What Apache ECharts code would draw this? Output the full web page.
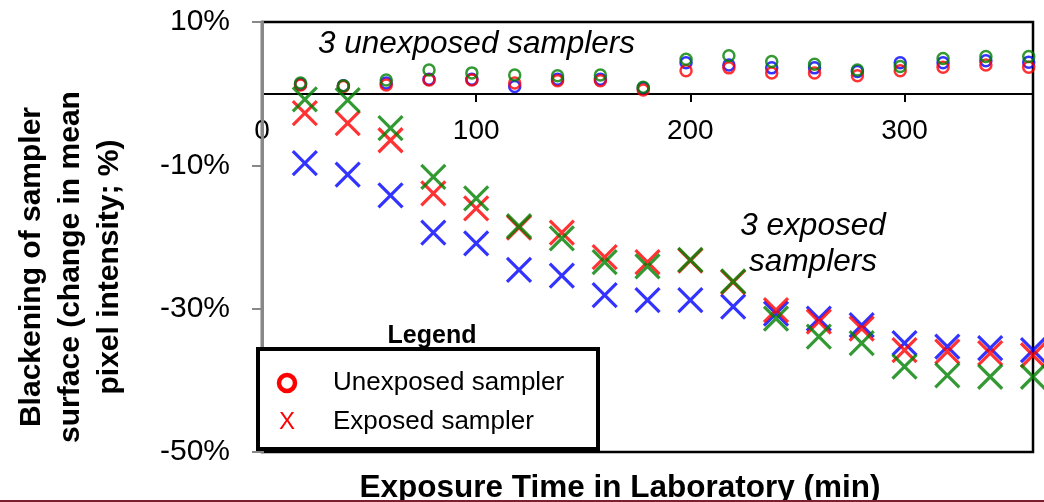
<!DOCTYPE html>
<html>
<head>
<meta charset="utf-8">
<script src="https://cdn.jsdelivr.net/npm/echarts@6/dist/echarts.min.js"></script>
<style>
  html, body { margin: 0; padding: 0; background: #fff; }
  #chart { width: 1044px; height: 502px; }
</style>
</head>
<body>
<div id="chart"></div>
<script>
// exposure times (min)
var timesUnexposed = [18, 38, 58, 78, 98, 118, 138, 158, 178, 198, 218, 238, 258, 278, 298, 318, 338, 358];
var timesExposed = [20, 40, 60, 80, 100, 120, 140, 160, 180, 200, 220, 240, 260, 280, 300, 320, 340, 360];

// change in mean pixel intensity (%)
var unexposedRed = [1.2, 1.0, 1.2, 1.9, 1.9, 1.5, 1.8, 1.8, 0.5, 3.2, 3.6, 2.9, 2.9, 2.5, 3.2, 3.7, 4.0, 3.7];
var unexposedBlue = [1.3, 1.1, 1.5, 2.0, 2.0, 1.0, 2.0, 2.0, 0.8, 4.3, 4.0, 3.6, 3.6, 3.1, 4.3, 4.3, 4.6, 4.4];
var unexposedGreen = [1.5, 1.1, 1.9, 3.3, 2.9, 2.6, 2.5, 2.6, 0.9, 4.8, 5.3, 4.5, 4.1, 3.3, 3.8, 4.9, 5.2, 5.2];

var exposedRed = [-2.7, -4.1, -6.5, -13.9, -16.0, -18.7, -19.4, -22.8, -23.5, -23.3, -26.3, -30.2, -31.8, -32.8, -35.8, -36.0, -36.2, -36.5];
var exposedBlue = [-9.7, -11.3, -14.2, -19.4, -20.9, -24.6, -25.4, -28.1, -28.8, -28.8, -29.7, -30.7, -31.4, -32.3, -34.8, -35.3, -35.5, -35.8];
var exposedGreen = [-0.8, -0.9, -4.8, -11.6, -14.6, -18.5, -20.2, -23.5, -24.1, -23.2, -26.2, -31.4, -33.9, -34.8, -38.1, -39.3, -39.5, -39.5];

var xTicks = [0, 100, 200, 300];
var yTicks = [-50, -30, -10, 10];

var FONT = '"Liberation Sans", Arial, sans-serif';
var crossPath = 'path://M0,0L24,24M24,0L0,24';

function pairs(xs, ys) {
  var out = [];
  for (var i = 0; i < xs.length; i++) out.push([xs[i], ys[i]]);
  return out;
}

function circles(name, color, ys) {
  return {
    name: name, type: 'scatter', data: pairs(timesUnexposed, ys),
    symbol: 'circle', symbolSize: 11, clip: false,
    itemStyle: { color: 'transparent', borderColor: color, borderWidth: 2.5 }
  };
}

function crosses(name, color, ys) {
  return {
    name: name, type: 'scatter', data: pairs(timesExposed, ys),
    symbol: crossPath, symbolSize: 24, clip: false,
    itemStyle: { color: 'transparent', borderColor: color, borderWidth: 3.2 }
  };
}

var chart = echarts.init(document.getElementById('chart'));

var option = {
  animation: false,
  grid: {
    left: 262, right: 11, top: 22, bottom: 50,
    show: true, borderColor: '#000', borderWidth: 2.5, backgroundColor: 'transparent'
  },
  xAxis: {
    // x axis sits on the 0% line, pulled up from the bottom of the grid
    type: 'value', min: 0, max: 360, position: 'bottom', offset: -358,
    splitLine: { show: false },
    axisLine: { onZero: false, lineStyle: { color: '#000', width: 2 } },
    axisTick: { customValues: xTicks, length: 8, lineStyle: { color: '#000', width: 2 } },
    axisLabel: { customValues: xTicks, fontSize: 28, color: '#000', margin: 23, fontFamily: FONT }
  },
  yAxis: {
    type: 'value', min: -50, max: 10, z: 2,
    splitLine: { show: false },
    axisLine: { show: true, onZero: false, lineStyle: { color: '#888', width: 3 } },
    axisTick: { show: true, customValues: yTicks, length: 10, lineStyle: { color: '#888', width: 2 } },
    axisLabel: { customValues: yTicks, formatter: '{value}%', fontSize: 30, color: '#000', margin: 32, fontFamily: FONT }
  },
  series: [
    circles('Unexposed 1', '#0000ff', unexposedBlue),
    circles('Unexposed 2', '#ff0000', unexposedRed),
    circles('Unexposed 3', '#008000', unexposedGreen),
    crosses('Exposed 1', '#0000ff', exposedBlue),
    crosses('Exposed 2', '#ff0000', exposedRed),
    crosses('Exposed 3', '#008000', exposedGreen)
  ],
  graphic: [
    // axis titles
    {
      type: 'text', x: 71, y: 267, rotation: Math.PI / 2, z: 10,
      style: {
        text: 'Blackening of sampler\nsurface (change in mean\npixel intensity; %)',
        font: 'bold 30px ' + FONT, fill: '#000', lineHeight: 39,
        align: 'center', verticalAlign: 'middle', textAlign: 'center', textVerticalAlign: 'middle'
      }
    },
    {
      type: 'text', x: 620, y: 488, z: 10,
      style: {
        text: 'Exposure Time in Laboratory (min)',
        font: 'bold 31.5px ' + FONT, fill: '#000',
        align: 'center', verticalAlign: 'middle', textAlign: 'center', textVerticalAlign: 'middle'
      }
    },
    // annotations
    {
      type: 'text', x: 318, y: 44, z: 10,
      style: {
        text: '3 unexposed samplers', font: 'italic 31.5px ' + FONT, fill: '#000',
        align: 'left', verticalAlign: 'middle', textAlign: 'left', textVerticalAlign: 'middle'
      }
    },
    {
      type: 'text', x: 813, y: 244, z: 10,
      style: {
        text: '3 exposed\nsamplers', font: 'italic 31.5px ' + FONT, fill: '#000', lineHeight: 36,
        align: 'center', verticalAlign: 'middle', textAlign: 'center', textVerticalAlign: 'middle'
      }
    },
    // legend box
    {
      type: 'text', x: 432, y: 336, z: 10,
      style: {
        text: 'Legend', font: 'bold 25px ' + FONT, fill: '#000',
        align: 'center', verticalAlign: 'middle', textAlign: 'center', textVerticalAlign: 'middle'
      }
    },
    {
      type: 'rect', z: 10,
      shape: { x: 258, y: 349, width: 340, height: 100 },
      style: { fill: '#fff', stroke: '#000', lineWidth: 4 }
    },
    {
      type: 'circle', z: 11,
      shape: { cx: 287, cy: 383, r: 8 },
      style: { fill: 'none', stroke: '#ff0000', lineWidth: 4.5 }
    },
    {
      type: 'text', x: 287, y: 422, z: 11,
      style: {
        text: 'X', font: '24px ' + FONT, fill: '#ff0000',
        align: 'center', verticalAlign: 'middle', textAlign: 'center', textVerticalAlign: 'middle'
      }
    },
    {
      type: 'text', x: 333, y: 383, z: 11,
      style: {
        text: 'Unexposed sampler', font: '26px ' + FONT, fill: '#000',
        align: 'left', verticalAlign: 'middle', textAlign: 'left', textVerticalAlign: 'middle'
      }
    },
    {
      type: 'text', x: 333, y: 422, z: 11,
      style: {
        text: 'Exposed sampler', font: '26px ' + FONT, fill: '#000',
        align: 'left', verticalAlign: 'middle', textAlign: 'left', textVerticalAlign: 'middle'
      }
    },
    // slide border at the bottom
    {
      type: 'line', z: 10,
      shape: { x1: 0, y1: 501, x2: 1044, y2: 501 },
      style: { stroke: '#7b1f2e', lineWidth: 2 }
    }
  ]
};

chart.setOption(option);
</script>
</body>
</html>
